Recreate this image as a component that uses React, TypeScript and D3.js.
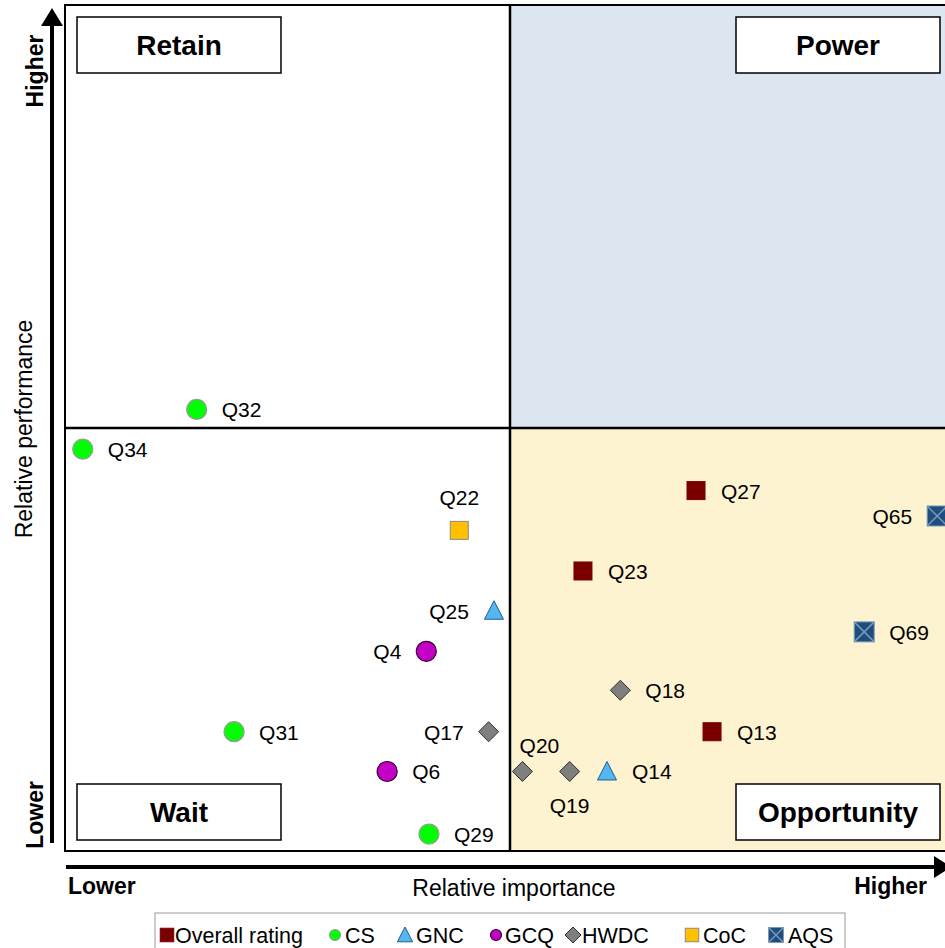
import React from "react";
import * as d3 from "d3";

// Item scores: relative importance (x) and relative performance (y), 0–100
const questions = ["Q32", "Q34", "Q22", "Q25", "Q4", "Q31", "Q17", "Q6", "Q29", "Q20", "Q19", "Q14", "Q18", "Q13", "Q27", "Q23", "Q69", "Q65"];
const groups = ["CS", "CS", "CoC", "GNC", "GCQ", "CS", "HWDC", "GCQ", "CS", "HWDC", "HWDC", "GNC", "HWDC", "Overall rating", "Overall rating", "Overall rating", "AQS", "AQS"];
const importance = [14.8, 2.0, 44.3, 48.2, 40.6, 19.0, 47.6, 36.2, 40.9, 51.4, 56.7, 60.9, 62.4, 72.7, 70.9, 58.2, 89.8, 98.0];
const performance = [52.2, 47.5, 37.9, 28.4, 23.6, 14.1, 14.1, 9.4, 2.0, 9.4, 9.4, 9.4, 19.0, 14.1, 42.6, 33.1, 25.9, 39.6];
const labelSides = ["right", "right", "above", "left", "left", "right", "left", "right", "right", "aboveRight", "below", "right", "right", "right", "right", "right", "right", "left"];

const legendGroups = ["Overall rating", "CS", "GNC", "GCQ", "HWDC", "CoC", "AQS"];
const quadrantNames = ["Retain", "Power", "Wait", "Opportunity"];

const FONT = "'Liberation Sans', Arial, sans-serif";

const styles: Record<string, { shape: string; fill: string; stroke: string }> = {
  "Overall rating": { shape: "square", fill: "#7a0000", stroke: "#7a0000" },
  CS: { shape: "circle", fill: "#00ff00", stroke: "#9a9a9a" },
  GNC: { shape: "triangle", fill: "#55b6f2", stroke: "#1e5f8f" },
  GCQ: { shape: "circle", fill: "#c400c4", stroke: "#3a003a" },
  HWDC: { shape: "diamond", fill: "#7f7f7f", stroke: "#303030" },
  CoC: { shape: "square", fill: "#ffc000", stroke: "#8a8a8a" },
  AQS: { shape: "xsquare", fill: "#1c4e80", stroke: "#7d9ab5" },
};

function Marker({ group, x, y, size }: { group: string; x: number; y: number; size: number }) {
  const s = styles[group];
  const h = size / 2;
  if (s.shape === "circle") {
    return <circle cx={x} cy={y} r={h} fill={s.fill} stroke={s.stroke} strokeWidth={1.2} />;
  }
  if (s.shape === "square") {
    return <rect x={x - h * 0.9} y={y - h * 0.9} width={size * 0.9} height={size * 0.9} fill={s.fill} stroke={s.stroke} strokeWidth={1} />;
  }
  if (s.shape === "triangle") {
    const path = d3.path();
    path.moveTo(x, y - h);
    path.lineTo(x + h * 0.95, y + h * 0.85);
    path.lineTo(x - h * 0.95, y + h * 0.85);
    path.closePath();
    return <path d={path.toString()} fill={s.fill} stroke={s.stroke} strokeWidth={1} />;
  }
  if (s.shape === "diamond") {
    const k = h;
    const path = d3.path();
    path.moveTo(x, y - k);
    path.lineTo(x + k, y);
    path.lineTo(x, y + k);
    path.lineTo(x - k, y);
    path.closePath();
    return <path d={path.toString()} fill={s.fill} stroke={s.stroke} strokeWidth={1} />;
  }
  // square with a light cross
  const k = h;
  return (
    <g>
      <rect x={x - k} y={y - k} width={2 * k} height={2 * k} fill={s.fill} />
      <line x1={x - k} y1={y - k} x2={x + k} y2={y + k} stroke={s.stroke} strokeWidth={1.5} />
      <line x1={x - k} y1={y + k} x2={x + k} y2={y - k} stroke={s.stroke} strokeWidth={1.5} />
      <rect x={x - k} y={y - k} width={2 * k} height={2 * k} fill="none" stroke={s.stroke} strokeWidth={1} />
    </g>
  );
}

export default function App() {
  const W = 945;
  const H = 948;
  const left = 65;
  const right = 955;
  const top = 5;
  const bottom = 851;

  const x = d3.scaleLinear().domain([0, 100]).range([left, right]);
  const y = d3.scaleLinear().domain([0, 100]).range([bottom, top]);
  const midX = x(50);
  const midY = y(50);

  const labelPos = (side: string, px: number, py: number) => {
    switch (side) {
      case "left":
        return { x: px - 25, y: py + 8, anchor: "end" };
      case "above":
        return { x: px, y: py - 25, anchor: "middle" };
      case "aboveRight":
        return { x: px + 17, y: py - 18, anchor: "middle" };
      case "below":
        return { x: px, y: py + 42, anchor: "middle" };
      default:
        return { x: px + 25, y: py + 8, anchor: "start" };
    }
  };

  const quadBoxes = [
    { name: quadrantNames[0], x0: 77, y0: 17 },
    { name: quadrantNames[1], x0: 736, y0: 17 },
    { name: quadrantNames[2], x0: 77, y0: 784 },
    { name: quadrantNames[3], x0: 736, y0: 784 },
  ];
  const boxW = 204;
  const boxH = 56;

  // legend layout: marker centre and text start for each entry
  const legendMarkerX = [167, 335, 405, 496, 573, 692, 776];
  const legendTextX = [175, 345, 416, 505, 582, 703, 788];

  return (
    <svg width={W} height={H} style={{ position: "absolute", left: 0, top: 0, fontFamily: FONT }}>
      <rect x={0} y={0} width={W} height={H} fill="#ffffff" />
      {/* quadrant backgrounds */}
      <rect x={midX} y={top} width={right - midX} height={midY - top} fill="#dce6f1" />
      <rect x={midX} y={midY} width={right - midX} height={bottom - midY} fill="#fdf3d0" />
      {/* dividing lines */}
      <line x1={midX} y1={top} x2={midX} y2={bottom} stroke="#000" strokeWidth={2.5} />
      <line x1={left} y1={midY} x2={right} y2={midY} stroke="#000" strokeWidth={2.5} />
      {/* plot border */}
      <rect x={left} y={top} width={right - left} height={bottom - top} fill="none" stroke="#000" strokeWidth={2} />

      {/* quadrant name boxes */}
      {quadBoxes.map((b) => (
        <g key={b.name}>
          <rect x={b.x0} y={b.y0} width={boxW} height={boxH} fill="#ffffff" stroke="#000" strokeWidth={1.5} />
          <text x={b.x0 + boxW / 2} y={b.y0 + boxH / 2 + 10} textAnchor="middle" fontSize={28} fontWeight="bold" fill="#000">
            {b.name}
          </text>
        </g>
      ))}

      {/* points */}
      {questions.map((q, i) => {
        const px = x(importance[i]);
        const py = y(performance[i]);
        const lp = labelPos(labelSides[i], px, py);
        return (
          <g key={q}>
            <Marker group={groups[i]} x={px} y={py} size={20} />
            <text x={lp.x} y={lp.y} textAnchor={lp.anchor as any} fontSize={21} fill="#000">
              {q}
            </text>
          </g>
        );
      })}

      {/* vertical axis arrow */}
      <line x1={52} y1={843} x2={52} y2={22} stroke="#000" strokeWidth={4} />
      <path d="M52,8 L63,26 L41,26 Z" fill="#000" />
      {/* horizontal axis arrow */}
      <line x1={66} y1={867} x2={936} y2={867} stroke="#000" strokeWidth={4} />
      <path d="M951,867 L934,856 L934,878 Z" fill="#000" />

      {/* axis labels */}
      <text transform={`translate(43,71) rotate(-90)`} textAnchor="middle" fontSize={23} fontWeight="bold">Higher</text>
      <text transform={`translate(43,815) rotate(-90)`} textAnchor="middle" fontSize={23} fontWeight="bold">Lower</text>
      <text transform={`translate(32,429) rotate(-90)`} textAnchor="middle" fontSize={23}>Relative performance</text>
      <text x={68} y={894} fontSize={23} fontWeight="bold">Lower</text>
      <text x={927} y={894} textAnchor="end" fontSize={23} fontWeight="bold">Higher</text>
      <text x={514} y={896} textAnchor="middle" fontSize={23}>Relative importance</text>

      {/* legend */}
      <rect x={155} y={913} width={690} height={45} fill="#ffffff" stroke="#9a9a9a" strokeWidth={1} />
      {legendGroups.map((g, i) => {
        const s = styles[g].shape;
        let size = 15;
        if (s === "circle") size = 11;
        if (s === "triangle") size = 16;
        if (s === "diamond") size = 16;
        return (
          <g key={g}>
            <Marker group={g} x={legendMarkerX[i]} y={935} size={size} />
            <text x={legendTextX[i]} y={943} fontSize={21.5} fill="#000">{g}</text>
          </g>
        );
      })}
    </svg>
  );
}
